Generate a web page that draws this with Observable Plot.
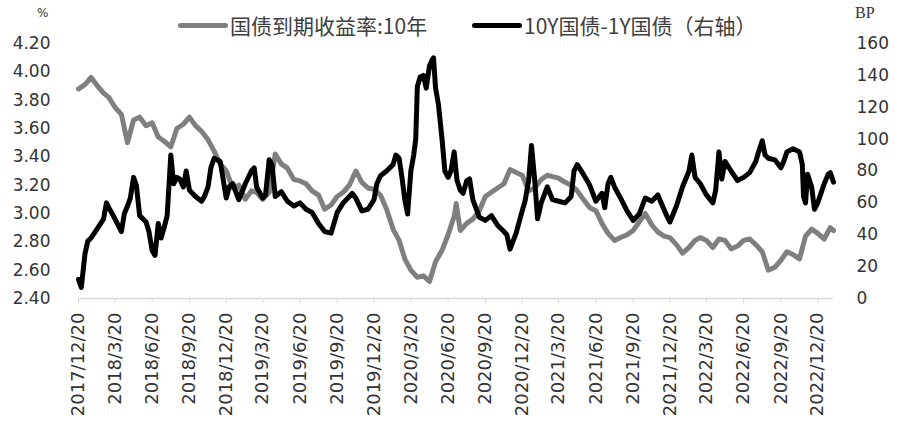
<!DOCTYPE html>
<html lang="zh">
<head>
<meta charset="UTF-8">
<title>国债到期收益率与期限利差</title>
<style>
  body { margin: 0; background: #ffffff; }
  #wrap { position: relative; width: 900px; height: 434px; }
  #legend { position: absolute; top: 0; left: 0; width: 900px; height: 42px;
    font-family: "Noto Sans CJK SC", sans-serif; font-size: 21px; color: #404040; }
  .item { position: absolute; top: 11px; display: flex; align-items: center; white-space: nowrap; line-height: 28px; }
  .swatch { display: inline-block; width: 50px; height: 5px; border-radius: 3px; margin-right: 2px; }
  .unit { position: absolute; color: #333333; }
</style>
</head>
<body>
<div id="wrap">
  <div id="chart"></div>
  <div id="legend">
    <span class="unit" style="left:37px; top:6px; font-family:'DejaVu Sans'; font-size:12px;">%</span>
    <div class="item" style="left:178px;"><span class="swatch" style="background:#7f7f7f"></span>国债到期收益率:10年</div>
    <div class="item" style="left:472px;"><span class="swatch" style="background:#000000"></span>10Y国债-1Y国债（右轴）</div>
    <span class="unit" style="left:855px; top:4px; font-family:'Liberation Serif'; font-size:16px;">BP</span>
  </div>
</div>

<script src="https://cdn.jsdelivr.net/npm/d3@7"></script>
<script src="https://cdn.jsdelivr.net/npm/@observablehq/plot@0.6"></script>
<script>
// 国债到期收益率:10年 (%)
const yield10y = [
  ["2017-12-20", 3.88], ["2018-01-05", 3.91], ["2018-01-20", 3.96], ["2018-02-05", 3.90], ["2018-02-20", 3.85],
  ["2018-03-05", 3.82], ["2018-03-20", 3.75], ["2018-04-05", 3.70], ["2018-04-20", 3.50], ["2018-05-05", 3.66],
  ["2018-05-20", 3.68], ["2018-06-05", 3.62], ["2018-06-20", 3.64], ["2018-07-05", 3.54], ["2018-07-20", 3.51],
  ["2018-08-05", 3.47], ["2018-08-20", 3.60], ["2018-09-05", 3.63], ["2018-09-20", 3.68], ["2018-10-05", 3.62],
  ["2018-10-20", 3.58], ["2018-11-05", 3.52], ["2018-11-20", 3.44], ["2018-12-05", 3.35], ["2018-12-20", 3.30],
  ["2019-01-05", 3.18], ["2019-01-20", 3.20], ["2019-02-05", 3.10], ["2019-02-20", 3.16], ["2019-03-05", 3.15],
  ["2019-03-20", 3.10], ["2019-04-05", 3.15], ["2019-04-20", 3.42], ["2019-05-05", 3.35], ["2019-05-20", 3.32],
  ["2019-06-05", 3.24], ["2019-06-20", 3.23], ["2019-07-05", 3.21], ["2019-07-20", 3.16], ["2019-08-05", 3.13],
  ["2019-08-20", 3.03], ["2019-09-05", 3.06], ["2019-09-20", 3.12], ["2019-10-05", 3.15], ["2019-10-20", 3.20],
  ["2019-11-05", 3.30], ["2019-11-20", 3.22], ["2019-12-05", 3.18], ["2019-12-20", 3.17], ["2020-01-05", 3.13],
  ["2020-01-20", 3.03], ["2020-02-05", 2.89], ["2020-02-20", 2.81], ["2020-03-05", 2.68], ["2020-03-20", 2.60],
  ["2020-04-05", 2.55], ["2020-04-20", 2.56], ["2020-05-05", 2.52], ["2020-05-20", 2.66], ["2020-06-05", 2.74],
  ["2020-06-20", 2.85], ["2020-07-05", 2.98], ["2020-07-10", 3.07], ["2020-07-20", 2.88], ["2020-08-05", 2.93],
  ["2020-08-20", 2.96], ["2020-09-05", 3.02], ["2020-09-20", 3.12], ["2020-10-05", 3.15], ["2020-10-20", 3.18],
  ["2020-11-05", 3.21], ["2020-11-20", 3.31], ["2020-12-05", 3.29], ["2020-12-20", 3.27], ["2021-01-05", 3.16],
  ["2021-01-20", 3.18], ["2021-02-05", 3.24], ["2021-02-20", 3.27], ["2021-03-05", 3.26], ["2021-03-20", 3.25],
  ["2021-04-05", 3.22], ["2021-04-20", 3.20], ["2021-05-05", 3.16], ["2021-05-20", 3.10], ["2021-06-05", 3.04],
  ["2021-06-20", 3.02], ["2021-07-05", 2.93], ["2021-07-20", 2.86], ["2021-08-05", 2.81], ["2021-08-20", 2.83],
  ["2021-09-05", 2.85], ["2021-09-20", 2.88], ["2021-10-05", 2.94], ["2021-10-20", 3.00], ["2021-11-05", 2.92],
  ["2021-11-20", 2.87], ["2021-12-05", 2.84], ["2021-12-20", 2.83], ["2022-01-05", 2.78], ["2022-01-20", 2.72],
  ["2022-02-05", 2.76], ["2022-02-20", 2.81], ["2022-03-05", 2.83], ["2022-03-20", 2.81], ["2022-04-05", 2.76],
  ["2022-04-20", 2.82], ["2022-05-05", 2.81], ["2022-05-20", 2.75], ["2022-06-05", 2.77], ["2022-06-20", 2.81],
  ["2022-07-05", 2.82], ["2022-07-20", 2.78], ["2022-08-05", 2.73], ["2022-08-20", 2.60], ["2022-09-05", 2.62],
  ["2022-09-20", 2.67], ["2022-10-05", 2.73], ["2022-10-20", 2.71], ["2022-11-05", 2.68], ["2022-11-20", 2.84],
  ["2022-12-05", 2.89], ["2022-12-20", 2.86], ["2023-01-05", 2.82], ["2023-01-20", 2.90], ["2023-01-28", 2.88]
];

// 10Y国债-1Y国债 (BP, 右轴)
const spread = [
  ["2017-12-20", 12], ["2017-12-27", 7], ["2018-01-05", 28], ["2018-01-12", 36], ["2018-01-20", 38],
  ["2018-02-05", 44], ["2018-02-20", 50], ["2018-02-27", 60], ["2018-03-05", 57], ["2018-03-20", 50],
  ["2018-04-05", 42], ["2018-04-12", 53], ["2018-04-20", 58], ["2018-04-27", 63], ["2018-05-05", 76],
  ["2018-05-12", 71], ["2018-05-20", 52], ["2018-06-05", 48], ["2018-06-12", 42], ["2018-06-20", 30],
  ["2018-06-27", 27], ["2018-07-05", 47], ["2018-07-12", 38], ["2018-07-20", 45], ["2018-07-27", 52],
  ["2018-08-05", 90], ["2018-08-12", 72], ["2018-08-20", 76], ["2018-08-27", 75], ["2018-09-05", 70],
  ["2018-09-12", 80], ["2018-09-20", 68], ["2018-10-05", 64], ["2018-10-20", 61], ["2018-10-27", 64],
  ["2018-11-05", 70], ["2018-11-12", 82], ["2018-11-20", 88], ["2018-12-05", 86], ["2018-12-20", 63],
  ["2018-12-27", 70], ["2019-01-05", 72], ["2019-01-20", 62], ["2019-02-05", 72], ["2019-02-20", 80],
  ["2019-02-27", 82], ["2019-03-05", 70], ["2019-03-20", 63], ["2019-03-27", 65], ["2019-04-05", 87],
  ["2019-04-12", 84], ["2019-04-20", 64], ["2019-05-05", 67], ["2019-05-20", 61], ["2019-06-05", 58],
  ["2019-06-20", 60], ["2019-07-05", 56], ["2019-07-20", 54], ["2019-08-05", 47], ["2019-08-20", 42],
  ["2019-09-05", 41], ["2019-09-20", 54], ["2019-10-05", 60], ["2019-10-20", 64], ["2019-10-27", 66],
  ["2019-11-05", 63], ["2019-11-20", 55], ["2019-12-05", 56], ["2019-12-20", 62], ["2019-12-27", 72],
  ["2020-01-05", 77], ["2020-01-20", 80], ["2020-02-05", 84], ["2020-02-12", 90], ["2020-02-20", 88],
  ["2020-02-27", 76], ["2020-03-05", 62], ["2020-03-12", 53], ["2020-03-20", 80], ["2020-03-27", 90],
  ["2020-04-01", 100], ["2020-04-05", 133], ["2020-04-12", 139], ["2020-04-20", 140], ["2020-04-27", 132],
  ["2020-05-05", 146], ["2020-05-12", 150], ["2020-05-15", 151], ["2020-05-20", 132], ["2020-05-27", 122],
  ["2020-06-05", 100], ["2020-06-12", 80], ["2020-06-20", 76], ["2020-06-27", 80], ["2020-07-05", 92],
  ["2020-07-12", 74], ["2020-07-20", 68], ["2020-07-27", 66], ["2020-08-05", 74], ["2020-08-12", 75],
  ["2020-08-20", 62], ["2020-09-05", 51], ["2020-09-20", 49], ["2020-10-05", 52], ["2020-10-20", 46],
  ["2020-11-05", 42], ["2020-11-12", 40], ["2020-11-20", 31], ["2020-12-05", 41], ["2020-12-20", 55],
  ["2020-12-27", 61], ["2021-01-05", 74], ["2021-01-12", 96], ["2021-01-20", 74], ["2021-01-27", 50],
  ["2021-02-05", 60], ["2021-02-20", 70], ["2021-03-05", 62], ["2021-03-20", 61], ["2021-04-05", 60],
  ["2021-04-20", 64], ["2021-04-27", 80], ["2021-05-05", 84], ["2021-05-20", 78], ["2021-06-05", 71],
  ["2021-06-20", 61], ["2021-07-05", 66], ["2021-07-12", 57], ["2021-07-20", 72], ["2021-07-27", 76],
  ["2021-08-05", 70], ["2021-08-20", 63], ["2021-09-05", 55], ["2021-09-20", 49], ["2021-10-05", 53],
  ["2021-10-20", 63], ["2021-11-05", 61], ["2021-11-20", 65], ["2021-12-05", 56], ["2021-12-12", 52],
  ["2021-12-20", 48], ["2022-01-05", 58], ["2022-01-20", 70], ["2022-02-05", 80], ["2022-02-12", 90],
  ["2022-02-20", 76], ["2022-03-05", 72], ["2022-03-20", 65], ["2022-04-05", 60], ["2022-04-12", 68],
  ["2022-04-20", 92], ["2022-04-27", 75], ["2022-05-05", 86], ["2022-05-20", 80], ["2022-06-05", 74],
  ["2022-06-20", 76], ["2022-07-05", 79], ["2022-07-20", 86], ["2022-07-27", 92], ["2022-08-05", 99],
  ["2022-08-12", 90], ["2022-08-20", 88], ["2022-09-05", 87], ["2022-09-20", 82], ["2022-09-27", 86],
  ["2022-10-05", 92], ["2022-10-20", 94], ["2022-11-05", 92], ["2022-11-12", 84], ["2022-11-15", 64],
  ["2022-11-20", 60], ["2022-11-25", 78], ["2022-12-05", 70], ["2022-12-12", 56], ["2022-12-20", 60],
  ["2023-01-05", 72], ["2023-01-15", 78], ["2023-01-20", 79], ["2023-01-28", 73]
];

const xTicks = [
  "2017-12-20", "2018-03-20", "2018-06-20", "2018-09-20", "2018-12-20", "2019-03-20", "2019-06-20",
  "2019-09-20", "2019-12-20", "2020-03-20", "2020-06-20", "2020-09-20", "2020-12-20", "2021-03-20",
  "2021-06-20", "2021-09-20", "2021-12-20", "2022-03-20", "2022-06-20", "2022-09-20", "2022-12-20"
];
const leftTicks = [2.4, 2.6, 2.8, 3.0, 3.2, 3.4, 3.6, 3.8, 4.0, 4.2];
const rightTicks = [0, 20, 40, 60, 80, 100, 120, 140, 160];

// right axis (BP) is folded onto the left scale
const leftMin = 2.4, leftMax = 4.2, rightMax = 160;
const toLeft = bp => leftMin + bp * (leftMax - leftMin) / rightMax;
const toRight = v => Math.round((v - leftMin) * rightMax / (leftMax - leftMin));

const parse = d3.utcParse("%Y-%m-%d");
const yieldData = yield10y.map(([d, v]) => ({date: parse(d), value: v}));
const spreadData = spread.map(([d, v]) => ({date: parse(d), value: toLeft(v)}));
const fmtDate = d => `${d.getUTCFullYear()}/${d.getUTCMonth() + 1}/${d.getUTCDate()}`;

const chart = Plot.plot({
  width: 900,
  height: 434,
  marginLeft: 78,
  marginRight: 67,
  marginTop: 43,
  marginBottom: 136,
  style: {fontFamily: "DejaVu Sans", fontSize: "17px", color: "#333333", background: "transparent", overflow: "visible"},
  x: {type: "utc", domain: [parse("2017-12-20"), parse("2023-01-28")]},
  y: {domain: [leftMin, leftMax]},
  marks: [
    Plot.ruleY([leftMin], {stroke: "#d9d9d9", strokeWidth: 1.5}),
    Plot.axisX({ticks: xTicks.map(parse), tickFormat: fmtDate, tickRotate: -90, tickSize: 5,
      tickPadding: 9, stroke: "#d9d9d9", fill: "#333333", fontSize: 18, label: null}),
    Plot.axisY({anchor: "left", ticks: leftTicks, tickFormat: d => d.toFixed(2), tickSize: 0,
      tickPadding: 28, label: null}),
    Plot.axisY({anchor: "right", ticks: rightTicks.map(toLeft), tickFormat: toRight, tickSize: 0,
      tickPadding: 23, label: null}),
    Plot.line(yieldData, {x: "date", y: "value", stroke: "#7f7f7f", strokeWidth: 5, strokeLinejoin: "round"}),
    Plot.line(spreadData, {x: "date", y: "value", stroke: "#000000", strokeWidth: 5, strokeLinejoin: "round"})
  ]
});

document.querySelector("#chart").append(chart);
</script>
</body>
</html>
